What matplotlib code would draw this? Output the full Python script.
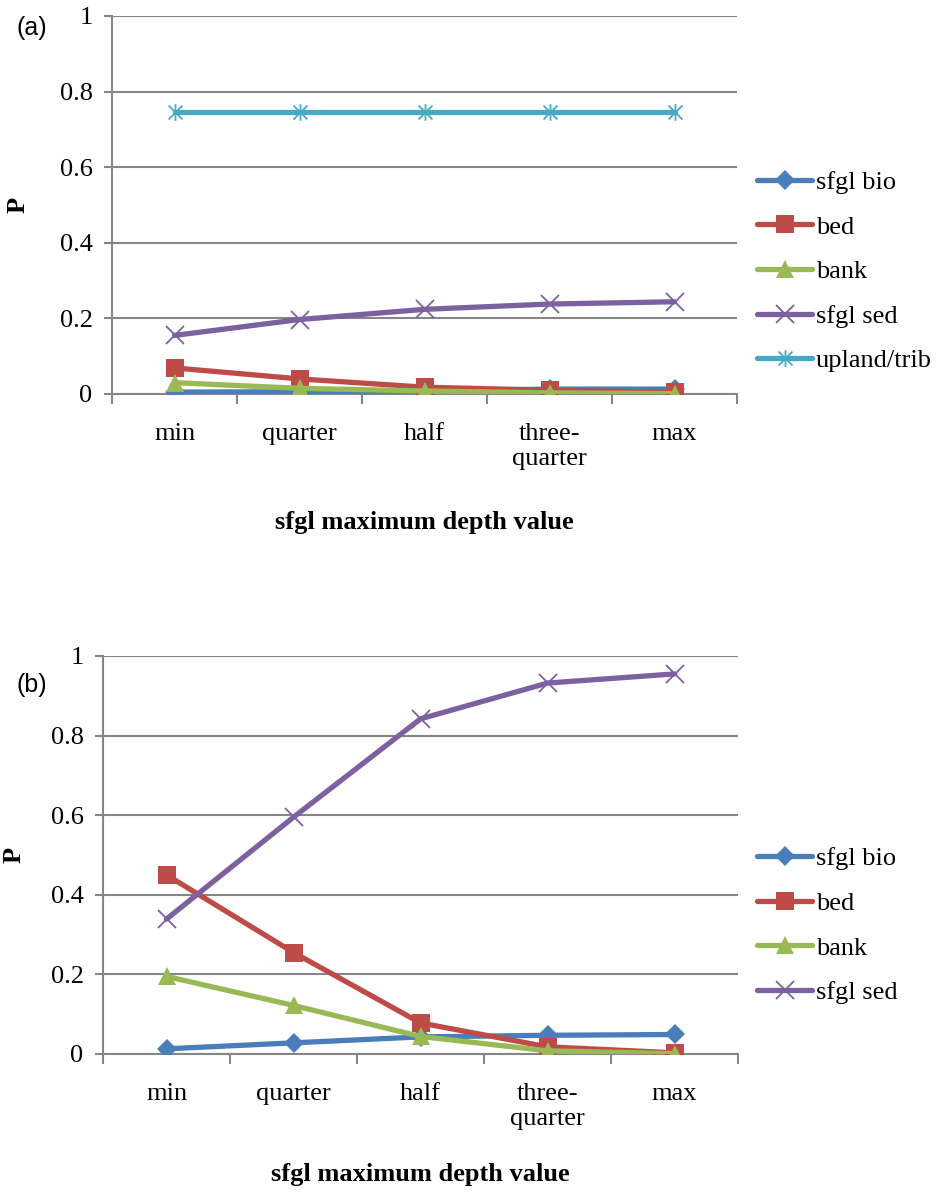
import numpy as np
import matplotlib
matplotlib.use("Agg")
import matplotlib.pyplot as plt
from matplotlib.path import Path

# ---------------- Data ----------------

categories = ["min", "quarter", "half", "three-\nquarter", "max"]

# panel (a)
a_bio = [0.005, 0.006, 0.008, 0.013, 0.013]
a_bed = [0.069, 0.040, 0.018, 0.010, 0.004]
a_bank = [0.030, 0.015, 0.008, 0.003, 0.001]
a_sed = [0.155, 0.197, 0.224, 0.238, 0.244]
a_upland = [0.746, 0.746, 0.746, 0.746, 0.746]

# panel (b)
b_bio = [0.013, 0.028, 0.043, 0.047, 0.049]
b_bed = [0.450, 0.255, 0.078, 0.018, 0.003]
b_bank = [0.195, 0.122, 0.044, 0.008, 0.001]
b_sed = [0.339, 0.595, 0.842, 0.932, 0.955]

yticks = [0, 0.2, 0.4, 0.6, 0.8, 1.0]
ytick_labels = ["0", "0.2", "0.4", "0.6", "0.8", "1"]

# ---------------- Style ----------------

SERIF = "Liberation Serif"
FS = 19
GRID = "#868686"

colors = {
    "sfgl bio": "#4A7EBB",
    "bed": "#BE4B48",
    "bank": "#98B954",
    "sfgl sed": "#7D60A0",
    "upland/trib": "#46AAC5",
}

# asterisk marker (x plus vertical bar)
asterisk = Path(
    [(-1, -1), (1, 1), (-1, 1), (1, -1), (0, -1.2), (0, 1.2)],
    [Path.MOVETO, Path.LINETO, Path.MOVETO, Path.LINETO, Path.MOVETO, Path.LINETO],
)

markers = {
    "sfgl bio": dict(marker="D", markersize=10.5, mew=0),
    "bed": dict(marker="s", markersize=12.5, mew=0),
    "bank": dict(marker="^", markersize=13, mew=0),
    "sfgl sed": dict(marker="x", markersize=12.5, mew=1.3),
    "upland/trib": dict(marker=asterisk, markersize=12, mew=1.3),
}


def draw_panel(ax, series, legend_y, xlabel_off):

    x = np.arange(len(categories))

    for name, vals in series:
        c = colors[name]
        ax.plot(
            x, vals,
            color=c, lw=3.8,
            solid_capstyle="round", solid_joinstyle="round",
            mfc=c, mec=c,
            label=name,
            zorder=3,
            **markers[name]
        )

    ax.set_xlim(-0.5, len(categories) - 0.5)
    ax.set_ylim(0, 1)

    # y axis
    ax.set_yticks(yticks)
    ax.set_yticklabels(ytick_labels, fontfamily=SERIF, fontsize=FS)
    ax.yaxis.grid(True, color=GRID, lw=1.5)
    ax.set_axisbelow(True)
    ax.tick_params(axis="y", direction="out", length=6, width=1.5,
                   color=GRID, pad=8)

    # x axis: tick marks between categories, labels at centres
    ax.set_xticks(np.arange(-0.5, len(categories), 1.0))
    ax.set_xticklabels([])
    ax.tick_params(axis="x", which="major", direction="out", length=7,
                   width=1.5, color=GRID)
    ax.set_xticks(x, minor=True)
    ax.set_xticklabels(categories, minor=True, fontfamily=SERIF,
                       fontsize=FS, linespacing=1.15)
    ax.tick_params(axis="x", which="minor", length=0, pad=21)

    for s in ["top", "right"]:
        ax.spines[s].set_visible(False)
    for s in ["left", "bottom"]:
        ax.spines[s].set_color(GRID)
        ax.spines[s].set_linewidth(1.5)

    h = ax.get_position().height * 1192
    ax.text(0.5, -xlabel_off / h, "sfgl maximum depth value",
            transform=ax.transAxes, ha="center", va="center",
            fontfamily=SERIF, fontsize=FS, fontweight="bold")

    ax.legend(
        loc="center left",
        bbox_to_anchor=(757 / 939, legend_y),
        bbox_transform=ax.figure.transFigure,
        frameon=False,
        prop={"family": SERIF, "size": FS},
        handlelength=2.1,
        handletextpad=0.12,
        labelspacing=0.8,
        borderpad=0,
        borderaxespad=0,
    )


fig = plt.figure(figsize=(9.39, 11.92), dpi=100)

ax_a = fig.add_axes([112 / 939, 1 - 394 / 1192, 625 / 939, 378 / 1192])
ax_b = fig.add_axes([103 / 939, 1 - 1054 / 1192, 635 / 939, 398 / 1192])

draw_panel(
    ax_a,
    [("sfgl bio", a_bio), ("bed", a_bed), ("bank", a_bank),
     ("sfgl sed", a_sed), ("upland/trib", a_upland)],
    1 - 271.5 / 1192,
    128,
)

draw_panel(
    ax_b,
    [("sfgl bio", b_bio), ("bed", b_bed), ("bank", b_bank),
     ("sfgl sed", b_sed)],
    1 - 925.5 / 1192,
    121,
)

# panel tags and y labels
fig.text(32 / 939, 1 - 28 / 1192, "(a)", family="Liberation Sans",
         fontsize=18, ha="center", va="center")
fig.text(32 / 939, 1 - 685 / 1192, "(b)", family="Liberation Sans",
         fontsize=18, ha="center", va="center")

fig.text(18 / 939, 1 - 205 / 1192, "P", family=SERIF, fontsize=FS,
         fontweight="bold", rotation=90, ha="center", va="center")
fig.text(14 / 939, 1 - 855 / 1192, "P", family=SERIF, fontsize=FS,
         fontweight="bold", rotation=90, ha="center", va="center")

fig.savefig("out.png", dpi=100)
